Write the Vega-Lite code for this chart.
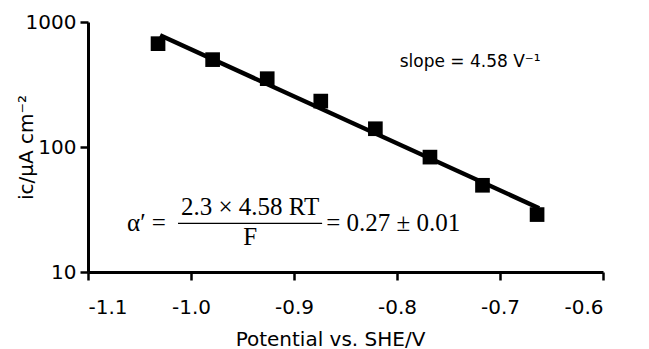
{
  "$schema": "https://vega.github.io/schema/vega-lite/v6.json",
  "width": 515,
  "height": 250,
  "autosize": {"type": "none"},
  "padding": {"left": 88, "top": 22, "right": 46, "bottom": 77},
  "background": "white",
  "config": {
    "view": {"stroke": null},
    "axis": {
      "grid": false,
      "domainColor": "black",
      "tickColor": "black",
      "domainWidth": 3,
      "tickWidth": 2.5,
      "tickSize": 8,
      "labelColor": "black",
      "titleColor": "black",
      "labelFont": "DejaVu Sans",
      "titleFont": "DejaVu Sans",
      "labelFontSize": 20,
      "titleFontSize": 20,
      "titleFontWeight": "normal"
    }
  },
  "datasets": {
    "points": [
      {"potential": -1.032, "current": 671},
      {"potential": -0.979, "current": 500},
      {"potential": -0.926, "current": 352},
      {"potential": -0.874, "current": 233},
      {"potential": -0.821, "current": 140},
      {"potential": -0.768, "current": 83},
      {"potential": -0.717, "current": 49.4},
      {"potential": -0.664, "current": 28.8}
    ],
    "fit": [
      {"potential": -1.030, "current": 783},
      {"potential": -0.662, "current": 32.4}
    ],
    "centered": [
      {"potential": -0.9426, "current": 33.0, "label": "2.3 × 4.58 RT"},
      {"potential": -0.9426, "current": 18.95, "label": "F"}
    ],
    "lefttext": [
      {"potential": -1.0621, "current": 24.5, "label": "α′ ="},
      {"potential": -0.8688, "current": 24.5, "label": "= 0.27 ± 0.01"}
    ],
    "bar": [
      {"potential": -1.0126, "potential2": -0.8727, "current": 24.5}
    ],
    "slope": [
      {"potential": -0.729, "current": 476, "label": "slope = 4.58 V⁻¹"}
    ]
  },
  "layer": [
    {
      "data": {"name": "fit"},
      "mark": {"type": "line", "color": "black", "strokeWidth": 4.5},
      "encoding": {
        "x": {
          "field": "potential",
          "type": "quantitative",
          "scale": {"domain": [-1.1, -0.6], "nice": false, "zero": false},
          "axis": {
            "values": [-1.1, -1.0, -0.9, -0.8, -0.7, -0.6],
            "labelExpr": "replace(format(datum.value, '.1f'), '−', '-')",
            "labelPadding": 17,
            "title": "Potential vs. SHE/V",
            "titleX": 242,
            "titleY": 73,
            "titleAlign": "center",
            "titleBaseline": "alphabetic"
          }
        },
        "y": {
          "field": "current",
          "type": "quantitative",
          "scale": {"type": "log", "domain": [10, 1000], "nice": false},
          "axis": {
            "values": [10, 100, 1000],
            "format": "d",
            "labelPadding": 4,
            "title": "ic/μA cm⁻²",
            "titleX": -62,
            "titleY": 125,
            "titleAngle": -90,
            "titleAlign": "center",
            "titleBaseline": "middle"
          }
        }
      }
    },
    {
      "data": {"name": "points"},
      "mark": {"type": "point", "shape": "square", "filled": true, "color": "black", "size": 215, "opacity": 1},
      "encoding": {
        "x": {"field": "potential", "type": "quantitative"},
        "y": {"field": "current", "type": "quantitative"}
      }
    },
    {
      "data": {"name": "bar"},
      "mark": {"type": "rule", "color": "black", "strokeWidth": 1.4},
      "encoding": {
        "x": {"field": "potential", "type": "quantitative"},
        "x2": {"field": "potential2"},
        "y": {"field": "current", "type": "quantitative"}
      }
    },
    {
      "data": {"name": "centered"},
      "mark": {"type": "text", "font": "Liberation Serif", "fontSize": 25, "align": "center", "baseline": "middle", "color": "black"},
      "encoding": {
        "x": {"field": "potential", "type": "quantitative"},
        "y": {"field": "current", "type": "quantitative"},
        "text": {"field": "label"}
      }
    },
    {
      "data": {"name": "lefttext"},
      "mark": {"type": "text", "font": "Liberation Serif", "fontSize": 25, "align": "left", "baseline": "middle", "color": "black"},
      "encoding": {
        "x": {"field": "potential", "type": "quantitative"},
        "y": {"field": "current", "type": "quantitative"},
        "text": {"field": "label"}
      }
    },
    {
      "data": {"name": "slope"},
      "mark": {"type": "text", "font": "DejaVu Sans", "fontSize": 17, "align": "center", "baseline": "middle", "color": "black"},
      "encoding": {
        "x": {"field": "potential", "type": "quantitative"},
        "y": {"field": "current", "type": "quantitative"},
        "text": {"field": "label"}
      }
    }
  ]
}
